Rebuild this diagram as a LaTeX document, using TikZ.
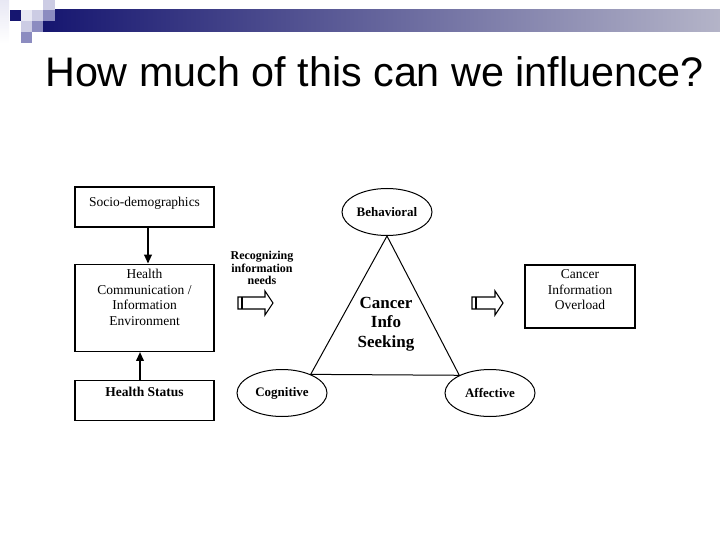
\documentclass[tikz,border=0pt]{standalone}
\usepackage{fontspec}
\setmainfont{Liberation Serif}
\newfontfamily\titlefont{Liberation Sans}
\usetikzlibrary{positioning,arrows.meta,shapes.geometric}
\definecolor{navy}{RGB}{22,22,112}
\definecolor{lavmid}{RGB}{140,140,192}
\definecolor{lavlight}{RGB}{204,204,228}
\definecolor{lavpale}{RGB}{232,232,244}
\definecolor{barend}{RGB}{180,180,200}

\begin{document}
\begin{tikzpicture}[
		x=1pt,y=-1pt,
		box/.style={
			draw,
			line width=1.3pt,
			minimum width=139pt,
			inner sep=0pt,
			align=center,
			font=\fontsize{13.5}{15.5}\selectfont
		},
		oval/.style={
			ellipse,
			draw,
			line width=1pt,
			minimum width=90pt,
			minimum height=47pt,
			inner sep=0pt,
			font=\fontsize{13}{15}\selectfont\bfseries
		},
		feed/.style={-{Triangle[length=9pt,width=7.5pt]}, line width=2pt},
		hollow/.style={draw, line width=1.1pt, fill=white}
		]
		\useasboundingbox (0,0) rectangle (720,540);
		
		% slide header
		\shade[top color=lavpale, bottom color=white] (0,0) rectangle (9,43);
		\shade[left color=navy, right color=barend] (43,10) rectangle (720,32);
		\fill[navy] (10,10) rectangle (21,21);
		\fill[lavpale] (21,10) rectangle (32,21);
		\fill[lavlight] (32,10) rectangle (43,21);
		\fill[lavmid] (43,10) rectangle (55,21);
		\fill[lavlight] (43,0) rectangle (55,10);
		\fill[lavlight] (21,21) rectangle (32,32);
		\fill[lavmid] (32,21) rectangle (43,32);
		\fill[lavmid] (21,32) rectangle (32,43);
		
		\node[anchor=base west, inner sep=0pt, font=\titlefont\fontsize{41.3}{48}\selectfont] (title) at (45,87) {How much of this can we influence?};
		
		% left column
		\node[box, minimum height=40pt, text depth=11pt] (socio) at (144.5,207) {Socio-demographics};
		\node[box, minimum height=87pt, text depth=21pt, below=36pt of socio] (env) {Health\\Communication /\\Information\\Environment};
		\node[box, minimum height=40pt, text depth=17pt, below=28pt of env, font=\fontsize{13.5}{15}\selectfont\bfseries] (status) {Health Status};
		
		\draw[feed] ([xshift=3.5pt]socio.south) -- ([xshift=3.5pt]env.north);
		\draw[feed] ([xshift=-4.5pt]status.north) -- ([xshift=-4.5pt]env.south);
		
		\node[align=center, inner sep=0pt, font=\fontsize{12}{12.5}\selectfont\bfseries] (needs) at (262,268) {Recognizing\\information\\needs};
		
		% block arrows
		\draw[hollow] (238,297) -- (265,297) -- (265,291) -- (273,303) -- (265,315) -- (265,309) -- (238,309) -- cycle;
		\draw[line width=1.1pt] (242,297) -- (242,309);
		\draw[hollow] (472,297) -- (495,297) -- (495,291) -- (503,303) -- (495,315) -- (495,309) -- (472,309) -- cycle;
		\draw[line width=1.1pt] (476,297) -- (476,309);
		
		% triangle of seeking
		\node[oval] (behav) at (387,212) {Behavioral};
		\node[oval] (cogn) at (282,393) {Cognitive};
		\node[oval] (affect) at (490,393) {Affective};
		\draw[line width=1pt] (behav.south) -- (cogn.33) -- (affect.150) -- cycle;
		\node[align=center, inner sep=0pt, font=\fontsize{17}{19.5}\selectfont\bfseries] (seek) at (386,324) {Cancer\\Info\\Seeking};
		
		\node[box, minimum width=110pt, minimum height=63pt, text depth=13pt] (overload) at (580,296.5) {Cancer\\Information\\Overload};
	\end{tikzpicture}
\end{document}
